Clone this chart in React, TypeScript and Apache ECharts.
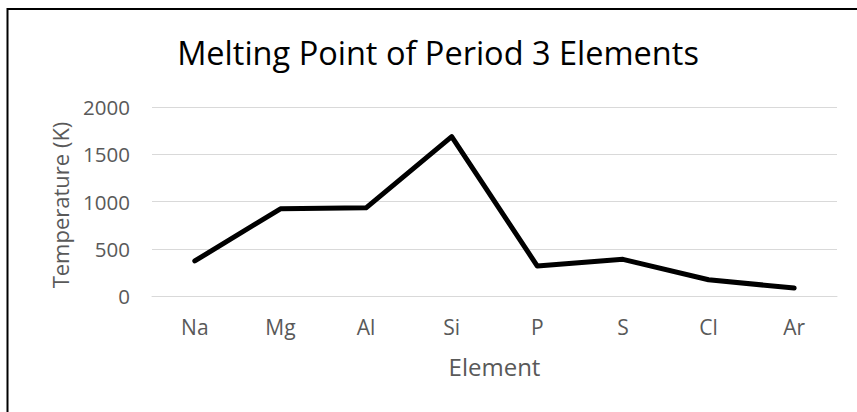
import React, { useEffect, useRef } from "react";
import * as echarts from "echarts";

const categories = ["Na", "Mg", "Al", "Si", "P", "S", "Cl", "Ar"];
const meltingPoints = [371, 923, 933, 1687, 317, 388, 172, 84];
const yTicks = { min: 0, max: 2000, interval: 500 };
const titleText = "Melting Point of Period 3 Elements";
const xName = "Element";
const yName = "Temperature (K)";

const FONT = "'Open Sans', sans-serif";
const GREY = "#595959";

export default function App() {
  const ref = useRef<HTMLDivElement>(null);
  useEffect(() => {
    if (!ref.current) return;
    const chart = echarts.init(ref.current, undefined, { renderer: "svg" });
    chart.setOption({
      animation: false,
      backgroundColor: "#ffffff",
      grid: { left: 152, top: 107, right: 20, bottom: 116, containLabel: false },
      graphic: [
        {
          type: "rect",
          shape: { x: 7.5, y: 9, width: 900, height: 500 },
          style: { fill: "none", stroke: "#000000", lineWidth: 2 },
          silent: true,
        },
        {
          type: "text",
          x: 438,
          y: 52.5,
          style: {
            text: titleText,
            fontFamily: FONT,
            fontSize: 32.5,
            fill: "#000000",
            textAlign: "center",
            textVerticalAlign: "middle",
          },
        },
      ],
      xAxis: {
        type: "category",
        data: categories,
        boundaryGap: true,
        axisLine: { show: true, lineStyle: { color: "#d9d9d9", width: 1 } },
        axisTick: { show: false },
        axisLabel: { color: GREY, fontFamily: FONT, fontSize: 21, margin: 20 },
        name: xName,
        nameLocation: "middle",
        nameGap: 58,
        nameTextStyle: { color: GREY, fontFamily: FONT, fontSize: 24 },
      },
      yAxis: {
        type: "value",
        min: yTicks.min,
        max: yTicks.max,
        interval: yTicks.interval,
        axisLine: { show: false },
        axisTick: { show: false },
        splitLine: { lineStyle: { color: "#d9d9d9", width: 1 } },
        axisLabel: {
          color: GREY,
          fontFamily: FONT,
          fontSize: 20.5,
          margin: 22,
          formatter: (v: number) => String(v),
        },
        name: yName,
        nameLocation: "middle",
        nameGap: 81,
        nameTextStyle: { color: GREY, fontFamily: FONT, fontSize: 22, padding: [0, 7, 0, 0] },
      },
      series: [
        {
          type: "line",
          data: meltingPoints,
          symbol: "none",
          lineStyle: { color: "#000000", width: 5, cap: "round", join: "round" },
        },
      ],
    });
    return () => chart.dispose();
  }, []);
  return (
    <div
      ref={ref}
      style={{ position: "fixed", left: 0, top: 0, width: 857, height: 412 }}
    />
  );
}
